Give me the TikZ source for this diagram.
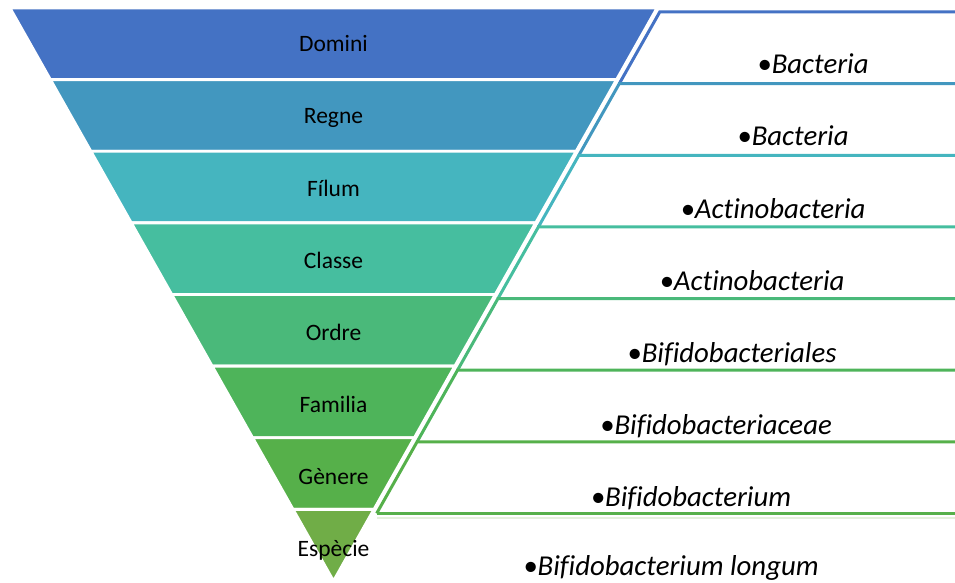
\documentclass[tikz,border=0pt]{standalone}
\usepackage{fontspec}
\setmainfont{Carlito}[Ligatures=CommonOff]
\definecolor{c0}{HTML}{4472C4}
\definecolor{c1}{HTML}{4297BF}
\definecolor{c2}{HTML}{45B5BF}
\definecolor{c3}{HTML}{46BE9F}
\definecolor{c4}{HTML}{4AB97A}
\definecolor{c5}{HTML}{4EB45A}
\definecolor{c6}{HTML}{56B04A}
\definecolor{c7}{HTML}{70AD47}
\definecolor{faint}{HTML}{E4F1DC}
\begin{document}
\begin{tikzpicture}[x=1pt,y=-1pt,
  lbl/.style={font=\fontsize{23.5}{28}\selectfont, text=black, inner sep=0, anchor=base},
  itm/.style={font=\fontsize{28.8}{34}\selectfont\itshape, text=black, inner sep=0, anchor=base},
  band/.style={draw=white, line width=2.8pt, line join=miter},
  boxline/.style={line width=3pt}]
\useasboundingbox (0,0) rectangle (955,583);
% pyramid bands
\foreach \k/\c in {0/c0,1/c1,2/c2,3/c3,4/c4,5/c5,6/c6,7/c7}{
  \pgfmathsetmacro\t{8+71.625*\k}
  \pgfmathsetmacro\u{\t+71.625}
  \pgfmathsetmacro\ht{0.564572*(581-\t)}
  \pgfmathsetmacro\hu{0.564572*(581-\u)}
  \fill[fill=\c, band] (333.5-\ht,\t) -- (333.5+\ht,\t) -- (333.5+\hu,\u) -- (333.5-\hu,\u) -- cycle;
}
% boxes on the right
\foreach \k/\c in {0/c0,1/c1,2/c2,3/c3,4/c4,5/c5,6/c6}{
  \pgfmathsetmacro\y{12+71.625*\k}
  \pgfmathsetmacro\z{\y+71.625}
  \pgfmathsetmacro\sa{333.5+0.564572*(581-\y)+5}
  \pgfmathsetmacro\sb{333.5+0.564572*(581-\z)+5}
  \draw[boxline, draw=\c] (960,\y) -- (\sa,\y) -- (\sb,\z);
}
\pgfmathsetmacro\zz{12+71.625*7}
\pgfmathsetmacro\sz{333.5+0.564572*(581-\zz)+5}
\draw[boxline, draw=c6] (\sz,\zz) -- (960,\zz);
\draw[line width=2.5pt, draw=faint] (377,\zz+4.5) -- (960,\zz+4.5);
% left labels
\node[lbl] (l0) at (333.5,52) {Domini};
\node[lbl] (l1) at (333.5,124) {Regne};
\node[lbl] (l2) at (333.5,196) {Fílum};
\node[lbl] (l3) at (333.5,268) {Classe};
\node[lbl] (l4) at (333.5,340) {Ordre};
\node[lbl] (l5) at (333.5,412) {Familia};
\node[lbl] (l6) at (333.5,484) {Gènere};
\node[lbl] (l7) at (333.5,556) {Espècie};
% right items
\node[itm] (r0) at (813,74) {•Bacteria};
\node[itm] (r1) at (793,146) {•Bacteria};
\node[itm] (r2) at (773,218) {•Actinobacteria};
\node[itm] (r3) at (752,290) {•Actinobacteria};
\node[itm] (r4) at (732,362) {•Bifidobacteriales};
\node[itm] (r5) at (716,434) {•Bifidobacteriaceae};
\node[itm] (r6) at (691,506) {•Bifidobacterium};
\node[itm] (r7) at (671,575) {•Bifidobacterium longum};
\end{tikzpicture}
\end{document}
